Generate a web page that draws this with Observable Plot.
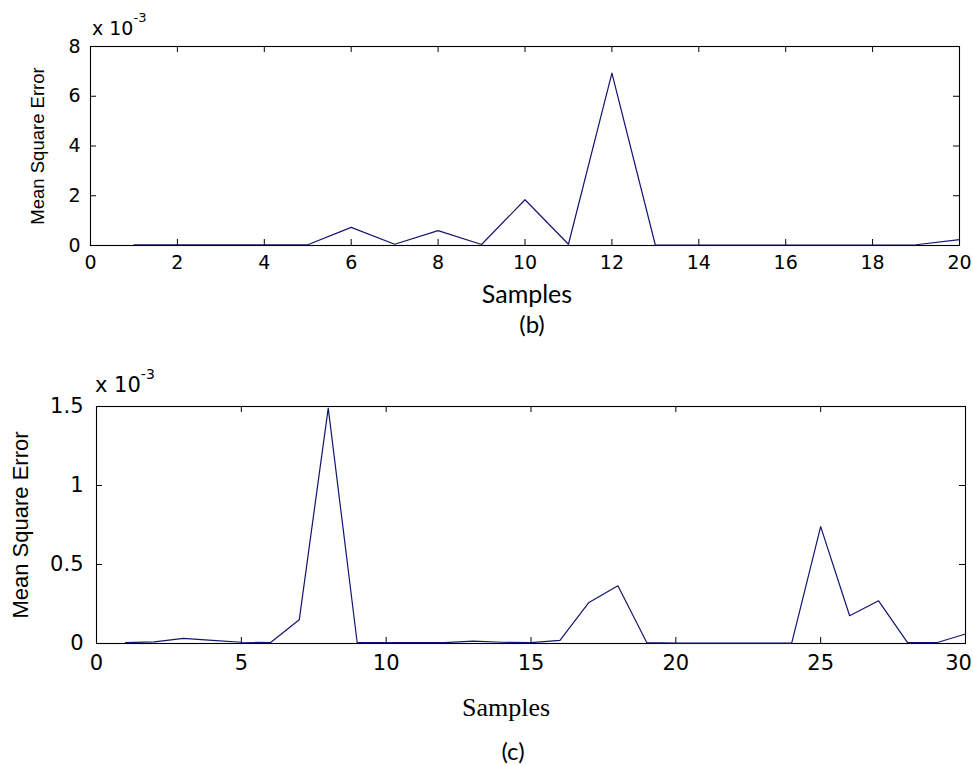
<!DOCTYPE html>
<html>
<head>
<meta charset="utf-8">
<script src="https://cdn.jsdelivr.net/npm/d3@7"></script>
<script src="https://cdn.jsdelivr.net/npm/@observablehq/plot@0.6"></script>
<style>
  body { margin: 0; background: #fff; }
  #wrap { position: relative; width: 973px; height: 765px; overflow: hidden; background: #fff; }
  .abs { position: absolute; white-space: nowrap; line-height: 1; color: #000; }
  .plotbox { position: absolute; left: 0; }
</style>
</head>
<body>
<div id="wrap">
  <div id="topPlot" class="plotbox" style="top:0px"></div>
  <div id="botPlot" class="plotbox" style="top:360px"></div>
  <div class="abs" style="left:92px;top:19px;font-family:'DejaVu Sans';font-size:19px;">x 10<span style="position:relative;top:-13px;font-size:13px;">-3</span></div>
  <div class="abs" style="left:95px;top:375px;font-family:'DejaVu Sans';font-size:21px;">x 10<span style="position:relative;top:-13px;font-size:14px;">-3</span></div>
  <div class="abs" style="left:527px;top:281px;transform:translateX(-50%);font-family:Lato;font-size:25px;">Samples</div>
  <div class="abs" style="left:532px;top:312px;transform:translateX(-50%);font-family:Lato;font-size:24px;">(b)</div>
  <div class="abs" style="left:506px;top:695px;transform:translateX(-50%);font-family:'Liberation Serif';font-size:26px;">Samples</div>
  <div class="abs" style="left:513px;top:739px;transform:translateX(-50%);font-family:Lato;font-size:24px;">(c)</div>
</div>
<script>
// ---- Data (values in units of 1e-3) ----
const samplesB = [1,2,3,4,5,6,7,8,9,10,11,12,13,14,15,16,17,18,19,20];
const mseB     = [0.03,0.03,0.03,0.03,0.03,0.73,0.05,0.60,0.04,1.84,0.05,6.93,0.02,0.02,0.02,0.02,0.02,0.02,0.03,0.24];
const xTicksB  = [0,2,4,6,8,10,12,14,16,18,20];
const yTicksB  = [0,2,4,6,8];

const samplesC = [1,2,3,4,5,6,7,8,9,10,11,12,13,14,15,16,17,18,19,20,21,22,23,24,25,26,27,28,29,30];
const mseC     = [0.005,0.01,0.033,0.02,0.008,0.005,0.15,1.49,0.005,0.005,0.005,0.005,0.015,0.008,0.005,0.02,0.26,0.365,0.005,0.003,0.003,0.003,0.003,0.003,0.74,0.176,0.27,0.005,0.005,0.06];
const xTicksC  = [0,5,10,15,20,25,30];
const yTicksC  = [0,0.5,1,1.5];

const yLabel = "Mean Square Error";
const lineColor = "#141470";

function makePanel({xs, ys, xTicks, yTicks, xDomain, yDomain, height, mt, mb, ml, mr, tickFont, labelFont, padX, padY, labelOffset, lastShift}) {
  const width = 973;
  const innerW = width - ml - mr;
  const innerH = height - mt - mb;
  const tl = 6;
  const data = xs.map((x, i) => ({x, y: ys[i]}));
  const lastTick = xTicks[xTicks.length - 1];
  const axisOpts = {tickSize: 0, tickPadding: padX, label: null, fontSize: tickFont, fontFamily: "DejaVu Sans", tickFormat: d => String(d)};
  return Plot.plot({
    width, height,
    marginTop: mt, marginBottom: mb, marginLeft: ml, marginRight: mr,
    x: {domain: xDomain},
    y: {domain: yDomain},
    style: {background: "white", color: "black", fontFamily: "DejaVu Sans", overflow: "visible"},
    marks: [
      Plot.frame({stroke: "black", strokeWidth: 1.1}),
      Plot.tickX(xTicks, {x: d => d, insetTop: innerH - tl, stroke: "black"}),
      Plot.tickX(xTicks, {x: d => d, insetBottom: innerH - tl, stroke: "black"}),
      Plot.tickY(yTicks, {y: d => d, insetRight: innerW - tl, stroke: "black"}),
      Plot.tickY(yTicks, {y: d => d, insetLeft: innerW - tl, stroke: "black"}),
      Plot.axisX(xTicks.slice(0, -1), axisOpts),
      Plot.axisX([lastTick], {...axisOpts, dx: -lastShift}),
      Plot.axisY(yTicks, {tickSize: 0, tickPadding: padY, label: null, fontSize: tickFont, fontFamily: "DejaVu Sans", tickFormat: d => String(d)}),
      Plot.text([yLabel], {text: d => d, frameAnchor: "left", rotate: -90, dx: -labelOffset, lineAnchor: "top", textAnchor: "middle", fontSize: labelFont, fontFamily: "Liberation Sans", fill: "black"}),
      Plot.line(data, {x: "x", y: "y", stroke: lineColor, strokeWidth: 1.2})
    ]
  });
}

document.getElementById("topPlot").append(makePanel({
  xs: samplesB, ys: mseB, xTicks: xTicksB, yTicks: yTicksB,
  xDomain: [0, 20], yDomain: [0, 8],
  height: 280, mt: 46, mb: 35, ml: 90, mr: 14,
  tickFont: 19, labelFont: 18.5, padX: 10, padY: 10, labelOffset: 60, lastShift: 0
}));

document.getElementById("botPlot").append(makePanel({
  xs: samplesC, ys: mseC, xTicks: xTicksC, yTicks: yTicksC,
  xDomain: [0, 30], yDomain: [0, 1.5],
  height: 310, mt: 46, mb: 27, ml: 96, mr: 8,
  tickFont: 21, labelFont: 22, padX: 12, padY: 13, labelOffset: 84, lastShift: 7
}));
</script>
</body>
</html>
